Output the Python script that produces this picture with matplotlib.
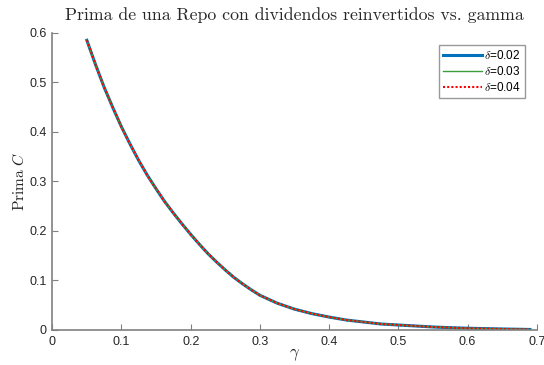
import matplotlib
matplotlib.use("Agg")
import matplotlib.pyplot as plt

plt.rcParams["mathtext.fontset"] = "cm"
plt.rcParams["font.family"] = ["Liberation Sans", "DejaVu Sans"]

gamma = [0.0500, 0.0625, 0.0750, 0.0875, 0.1000, 0.1125, 0.1250, 0.1375,
         0.1500, 0.1625, 0.1750, 0.1875, 0.2000, 0.2125, 0.2250, 0.2375,
         0.2500, 0.2625, 0.2750, 0.2875, 0.3000, 0.3125, 0.3250, 0.3375,
         0.3500, 0.3750, 0.4000, 0.4250, 0.4500, 0.4750, 0.5000, 0.5250,
         0.5500, 0.5750, 0.6000, 0.6250, 0.6500, 0.6750, 0.6900]
prima_d002 = [0.585, 0.536, 0.490, 0.449, 0.410, 0.375, 0.342, 0.312,
              0.285, 0.259, 0.236, 0.214, 0.193, 0.173, 0.154, 0.137,
              0.121, 0.106, 0.093, 0.081, 0.070, 0.062, 0.054, 0.048,
              0.042, 0.033, 0.026, 0.020, 0.016, 0.012, 0.010, 0.008,
              0.006, 0.0046, 0.0035, 0.0027, 0.002, 0.0014, 0.001]
prima_d003 = [0.585, 0.536, 0.490, 0.449, 0.410, 0.375, 0.342, 0.312,
              0.285, 0.259, 0.236, 0.214, 0.193, 0.173, 0.154, 0.137,
              0.121, 0.106, 0.093, 0.081, 0.070, 0.062, 0.054, 0.048,
              0.042, 0.033, 0.026, 0.020, 0.016, 0.012, 0.010, 0.008,
              0.006, 0.0046, 0.0035, 0.0027, 0.002, 0.0014, 0.001]
prima_d004 = [0.585, 0.536, 0.490, 0.449, 0.410, 0.375, 0.342, 0.312,
              0.285, 0.259, 0.236, 0.214, 0.193, 0.173, 0.154, 0.137,
              0.121, 0.106, 0.093, 0.081, 0.070, 0.062, 0.054, 0.048,
              0.042, 0.033, 0.026, 0.020, 0.016, 0.012, 0.010, 0.008,
              0.006, 0.0046, 0.0035, 0.0027, 0.002, 0.0014, 0.001]
labels = [r"$\delta$=0.02", r"$\delta$=0.03", r"$\delta$=0.04"]
xticks = [0, 0.1, 0.2, 0.3, 0.4, 0.5, 0.6, 0.7]
yticks = [0, 0.1, 0.2, 0.3, 0.4, 0.5, 0.6]

axis_gray = "#262626"

fig = plt.figure(figsize=(5.44, 3.65), dpi=100)
ax = fig.add_axes([0.096, 0.096, 0.891, 0.814])

ax.plot(gamma, prima_d002, color="#0072BD", lw=2.2, label=labels[0],
        solid_joinstyle="round")
ax.plot(gamma, prima_d003, color="#3a9e3a", lw=1.0, label=labels[1],
        solid_joinstyle="round")
ax.plot(gamma, prima_d004, color="#ff0000", lw=1.5, ls=(0, (1, 1)),
        label=labels[2])

ax.set_xlim(0, 0.7)
ax.set_ylim(0, 0.6)
ax.set_xticks(xticks)
ax.set_yticks(yticks)
ax.set_xticklabels([f"{t:g}" for t in xticks])
ax.set_yticklabels([f"{t:g}" for t in yticks])

for side in ("top", "right"):
    ax.spines[side].set_visible(False)
for side in ("left", "bottom"):
    ax.spines[side].set_color("#808080")
    ax.spines[side].set_linewidth(1.2)
ax.tick_params(direction="in", length=4, width=0.8, colors="#808080",
               labelcolor=axis_gray, labelsize=9, pad=4)

ax.set_title("Prima de una Repo con dividendos reinvertidos vs. gamma",
             fontfamily="cmr10", fontsize=12.8, color=axis_gray, pad=9)
ax.set_xlabel(r"$\gamma$", fontsize=12, color=axis_gray, labelpad=-1)
ax.set_ylabel(r"$\mathrm{Prima}\ C$", fontsize=11, color=axis_gray, labelpad=2)

leg = ax.legend(loc="upper right", bbox_to_anchor=(0.975, 0.96), fontsize=8.5,
                frameon=True, fancybox=False, edgecolor="#808080",
                handlelength=3.3, handletextpad=0.2, borderpad=0.35,
                labelspacing=0.25, borderaxespad=0)
leg.get_frame().set_linewidth(1.0)

fig.savefig("out.png", dpi=100)
